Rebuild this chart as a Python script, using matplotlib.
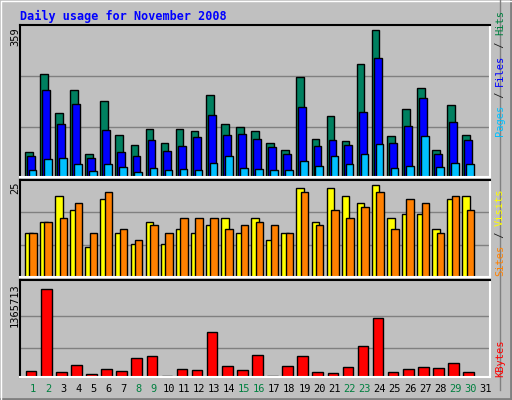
import matplotlib
matplotlib.use("Agg")
import matplotlib.pyplot as plt
import numpy as np

days = list(range(1, 32))
hits = [60,245,152,207,55,181,100,76,114,81,114,109,195,126,119,109,81,65,238,90,145,86,268,349,98,162,211,65,171,100,0]
files = [50,207,126,173,46,112,60,50,88,62,74,95,147,100,102,90,72,55,166,74,88,76,155,282,81,121,188,55,131,88,0]
pages = [17,43,46,31,15,31,24,12,22,17,19,17,34,50,22,19,17,17,38,27,50,31,55,79,22,27,98,24,34,31,0]
sites = [12,15,22,18,8,21,12,9,15,9,13,12,14,16,12,16,10,12,24,15,24,22,20,25,16,17,17,13,21,22,0]
visits = [12,15,16,20,12,23,13,10,14,12,16,16,16,13,14,15,14,12,23,14,18,16,19,23,13,21,20,12,22,18,0]
kbytes = [95e3,1365713,80e3,184e3,50e3,125e3,95e3,289e3,319e3,20e3,125e3,110e3,693e3,169e3,110e3,334e3,20e3,169e3,319e3,80e3,65e3,155e3,483e3,917e3,80e3,125e3,155e3,140e3,214e3,80e3,0]
weekends = [1,2,8,9,15,16,22,23,29,30]
max_hits, max_sites, max_kb = 359, 25, 1365713

W, H = 512, 400
fig = plt.figure(figsize=(5.12, 4.0), dpi=100)
fig.patch.set_facecolor("#C0C0C0")
fl = fig.add_axes([0, 0, 1, 1]); fl.set_xlim(0, W); fl.set_ylim(H, 0); fl.axis("off")
fl.plot([0.5, W-1, W-1], [H-1, H-1, 0.5], color="#808080", lw=2)
fl.plot([0.5, 0.5, W-1], [H-1, 0.5, 0.5], color="white", lw=1)
fl.plot([W-12, W-12], [0, H-10], color="#808080", lw=1)
fl.text(20, 16, "Daily usage for November 2008", color="#0000FF", fontsize=8.5,
        fontweight="bold", family="DejaVu Sans Mono", va="center")

def ax_at(top, bot, left=20, right=490):
    a = fig.add_axes([left/W, 1-bot/H, (right-left)/W, (bot-top)/H])
    a.set_facecolor("#C0C0C0")
    a.set_xlim(0.14, 31.3)
    a.set_xticks([]); a.set_yticks([])
    for s in ["top", "left"]:
        a.spines[s].set_color("black")
    for s in ["bottom", "right"]:
        a.spines[s].set_color("white")
    for s in a.spines.values():
        s.set_linewidth(1.5)
    return a

d = np.array(days, float)
ek = dict(edgecolor="black", linewidth=1, align="edge")

a1 = ax_at(25, 177)
a1.set_ylim(0, max_hits * 1.005)
for g in [max_hits/3, 2*max_hits/3]:
    a1.axhline(g*1.0, color="#808080", lw=1, zorder=0)
a1.bar(d-0.53, hits, 0.5, color="#008060", **ek)
a1.bar(d-0.40, files, 0.52, color="#0000FF", **ek)
a1.bar(d-0.27, pages, 0.5, color="#00C0FF", **ek)

a2 = ax_at(180, 277)
a2.set_ylim(0, max_sites * 1.05)
for g in [max_sites*0.35, max_sites*0.7]:
    a2.axhline(g, color="#808080", lw=1, zorder=0)
a2.bar(d-0.53, sites, 0.5, color="#FFFF00", **ek)
a2.bar(d-0.24, visits, 0.5, color="#FF8000", **ek)

a3 = ax_at(280, 377)
a3.set_ylim(0, max_kb * 1.1)
for g in [max_kb*0.33, max_kb*0.69]:
    a3.axhline(g, color="#808080", lw=1, zorder=0)
a3.bar(d-0.47, kbytes, 0.7, color="#FF0000", **ek)

mono = "DejaVu Sans Mono"
for i in days:
    x = 20 + (i - 0.14) / (31.3 - 0.14) * 470
    fl.text(x, 389, str(i), ha="center", va="center", fontsize=7.5, family=mono,
            color="#008040" if i in weekends else "black")

fl.text(15, 27, "359", rotation=90, ha="center", va="top", fontsize=7.5, family=mono)
fl.text(15, 182, "25", rotation=90, ha="center", va="top", fontsize=7.5, family=mono)
fl.text(15, 283, "1365713", rotation=90, ha="center", va="top", fontsize=7.5, family=mono)

def rlabel(parts, ybottom):
    y = ybottom
    for txt, col in parts:
        t = fl.text(500, y, txt, rotation=90, ha="center", va="bottom", fontsize=7.5,
                    family=mono, color=col)
        y -= len(txt) * 6.3
rlabel([("Pages", "#00C0FF"), (" / ", "#202020"), ("Files", "#0000FF"),
        (" / ", "#202020"), ("Hits", "#008040")], 136)
rlabel([("Sites", "#FF8000"), (" / ", "#202020"), ("Visits", "#FFFF00")], 276)
rlabel([("KBytes", "#FF0000")], 377)

fig.savefig("out.png", dpi=100, facecolor=fig.get_facecolor())
